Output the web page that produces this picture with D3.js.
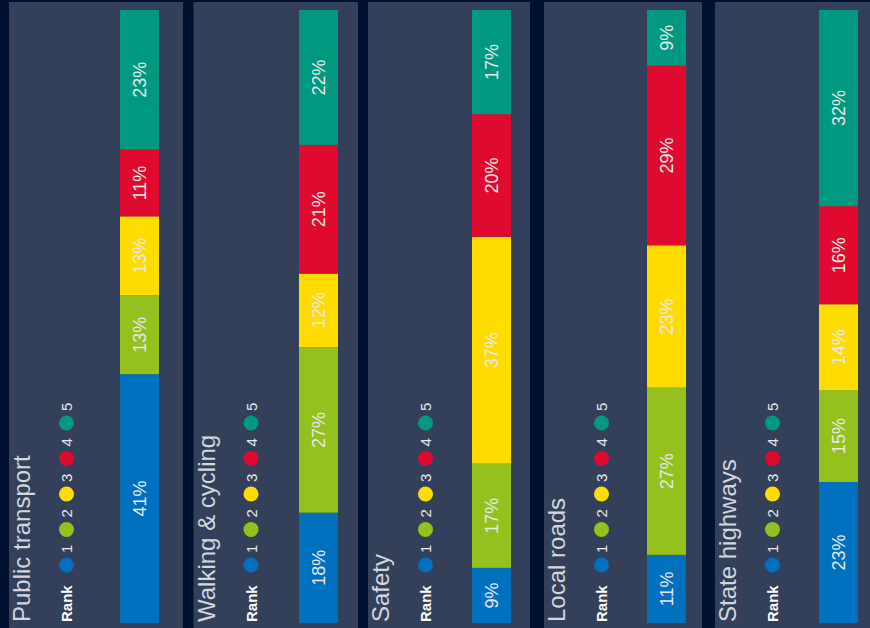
<!DOCTYPE html>
<html>
<head>
<meta charset="utf-8">
<script src="https://cdn.jsdelivr.net/npm/d3@7"></script>
<style>
  html, body { margin: 0; padding: 0; background: #00102f; }
  svg { display: block; }
</style>
</head>
<body>
<div id="content"></div>
<script>
// categories (one panel each) and share per rank, bottom to top
var categories = ['Public transport', 'Walking & cycling', 'Safety', 'Local roads', 'State highways'];
var ranks = ['1', '2', '3', '4', '5'];
var rank1 = [41, 18, 9, 11, 23];
var rank2 = [13, 27, 17, 27, 15];
var rank3 = [13, 12, 37, 23, 14];
var rank4 = [11, 21, 20, 29, 16];
var rank5 = [23, 22, 17, 9, 32];
var rankColors = ['#0070bf', '#95c11f', '#ffdc00', '#e00a2e', '#009980'];

// panel layout
var width = 870, height = 628;
var panelLeft = [9, 193.5, 368, 544, 715];
var panelRight = [183, 358, 530, 702, 870];
var barLeft = [120, 299, 472, 647, 819];
var barWidth = 39;

var rows = categories.map(function (c, i) {
  return { cat: c, '1': rank1[i], '2': rank2[i], '3': rank3[i], '4': rank4[i], '5': rank5[i] };
});

var series = d3.stack()
  .keys(ranks)
  .offset(d3.stackOffsetExpand)(rows);

var y = d3.scaleLinear().domain([0, 1]).range([623, 10]);
var xBar = d3.scaleOrdinal().domain(categories).range(barLeft);
var xPanel = d3.scaleOrdinal().domain(categories).range(panelLeft);
var color = d3.scaleOrdinal().domain(ranks).range(rankColors);
var legendY = d3.scalePoint().domain(ranks).range([565, 423]);

var svg = d3.select('#content').append('svg')
  .attr('width', width)
  .attr('height', height);

svg.append('rect')
  .attr('width', width).attr('height', height)
  .attr('fill', '#00102f');

svg.selectAll('rect.panel')
  .data(categories)
  .enter().append('rect')
  .attr('class', 'panel')
  .attr('x', function (d) { return xPanel(d); })
  .attr('y', 2)
  .attr('width', function (d, i) { return panelRight[i] - panelLeft[i]; })
  .attr('height', height - 2)
  .attr('fill', '#34405a');

// stacked bars
var layer = svg.selectAll('g.layer')
  .data(series)
  .enter().append('g')
  .attr('class', 'layer')
  .attr('fill', function (d) { return color(d.key); });

layer.selectAll('rect')
  .data(function (d) { return d.map(function (v) { v.key = d.key; return v; }); })
  .enter().append('rect')
  .attr('x', function (d) { return xBar(d.data.cat); })
  .attr('y', function (d) { return y(d[1]); })
  .attr('width', barWidth)
  .attr('height', function (d) { return y(d[0]) - y(d[1]); });

layer.selectAll('text')
  .data(function (d) { return d; })
  .enter().append('text')
  .attr('transform', function (d) {
    var cx = xBar(d.data.cat) + barWidth / 2;
    var cy = (y(d[0]) + y(d[1])) / 2;
    return 'translate(' + cx + ',' + cy + ') rotate(-90)';
  })
  .attr('text-anchor', 'middle')
  .attr('dy', '0.36em')
  .attr('fill', '#e6e8ec')
  .style('font-family', '"Liberation Sans", Arial, sans-serif')
  .style('font-size', '18px')
  .text(function (d) { return d.data[d.key] + '%'; });

// titles
svg.selectAll('text.title')
  .data(categories)
  .enter().append('text')
  .attr('class', 'title')
  .attr('transform', function (d) { return 'translate(' + (xPanel(d) + 21) + ',622) rotate(-90)'; })
  .attr('fill', '#d2d6de')
  .style('font-family', '"Liberation Sans", Arial, sans-serif')
  .style('font-size', '24px')
  .text(function (d) { return d; });

// legends
var legend = svg.selectAll('g.legend')
  .data(categories)
  .enter().append('g')
  .attr('class', 'legend')
  .attr('transform', function (d) { return 'translate(' + (xPanel(d) + 57.5) + ',0)'; });

legend.append('text')
  .attr('transform', 'translate(5.5,622) rotate(-90)')
  .attr('fill', '#ffffff')
  .style('font-family', '"Liberation Sans", Arial, sans-serif')
  .style('font-size', '15px')
  .style('font-weight', 'bold')
  .text('Rank');

var item = legend.selectAll('g.item')
  .data(ranks)
  .enter().append('g')
  .attr('class', 'item')
  .attr('transform', function (d) { return 'translate(0,' + legendY(d) + ')'; });

item.append('circle')
  .attr('r', 7.5)
  .attr('fill', function (d) { return color(d); });

item.append('text')
  .attr('transform', 'translate(5.5,-12) rotate(-90)')
  .attr('fill', '#e6e8ec')
  .style('font-family', '"Liberation Sans", Arial, sans-serif')
  .style('font-size', '15px')
  .text(function (d) { return d; });
</script>
</body>
</html>
